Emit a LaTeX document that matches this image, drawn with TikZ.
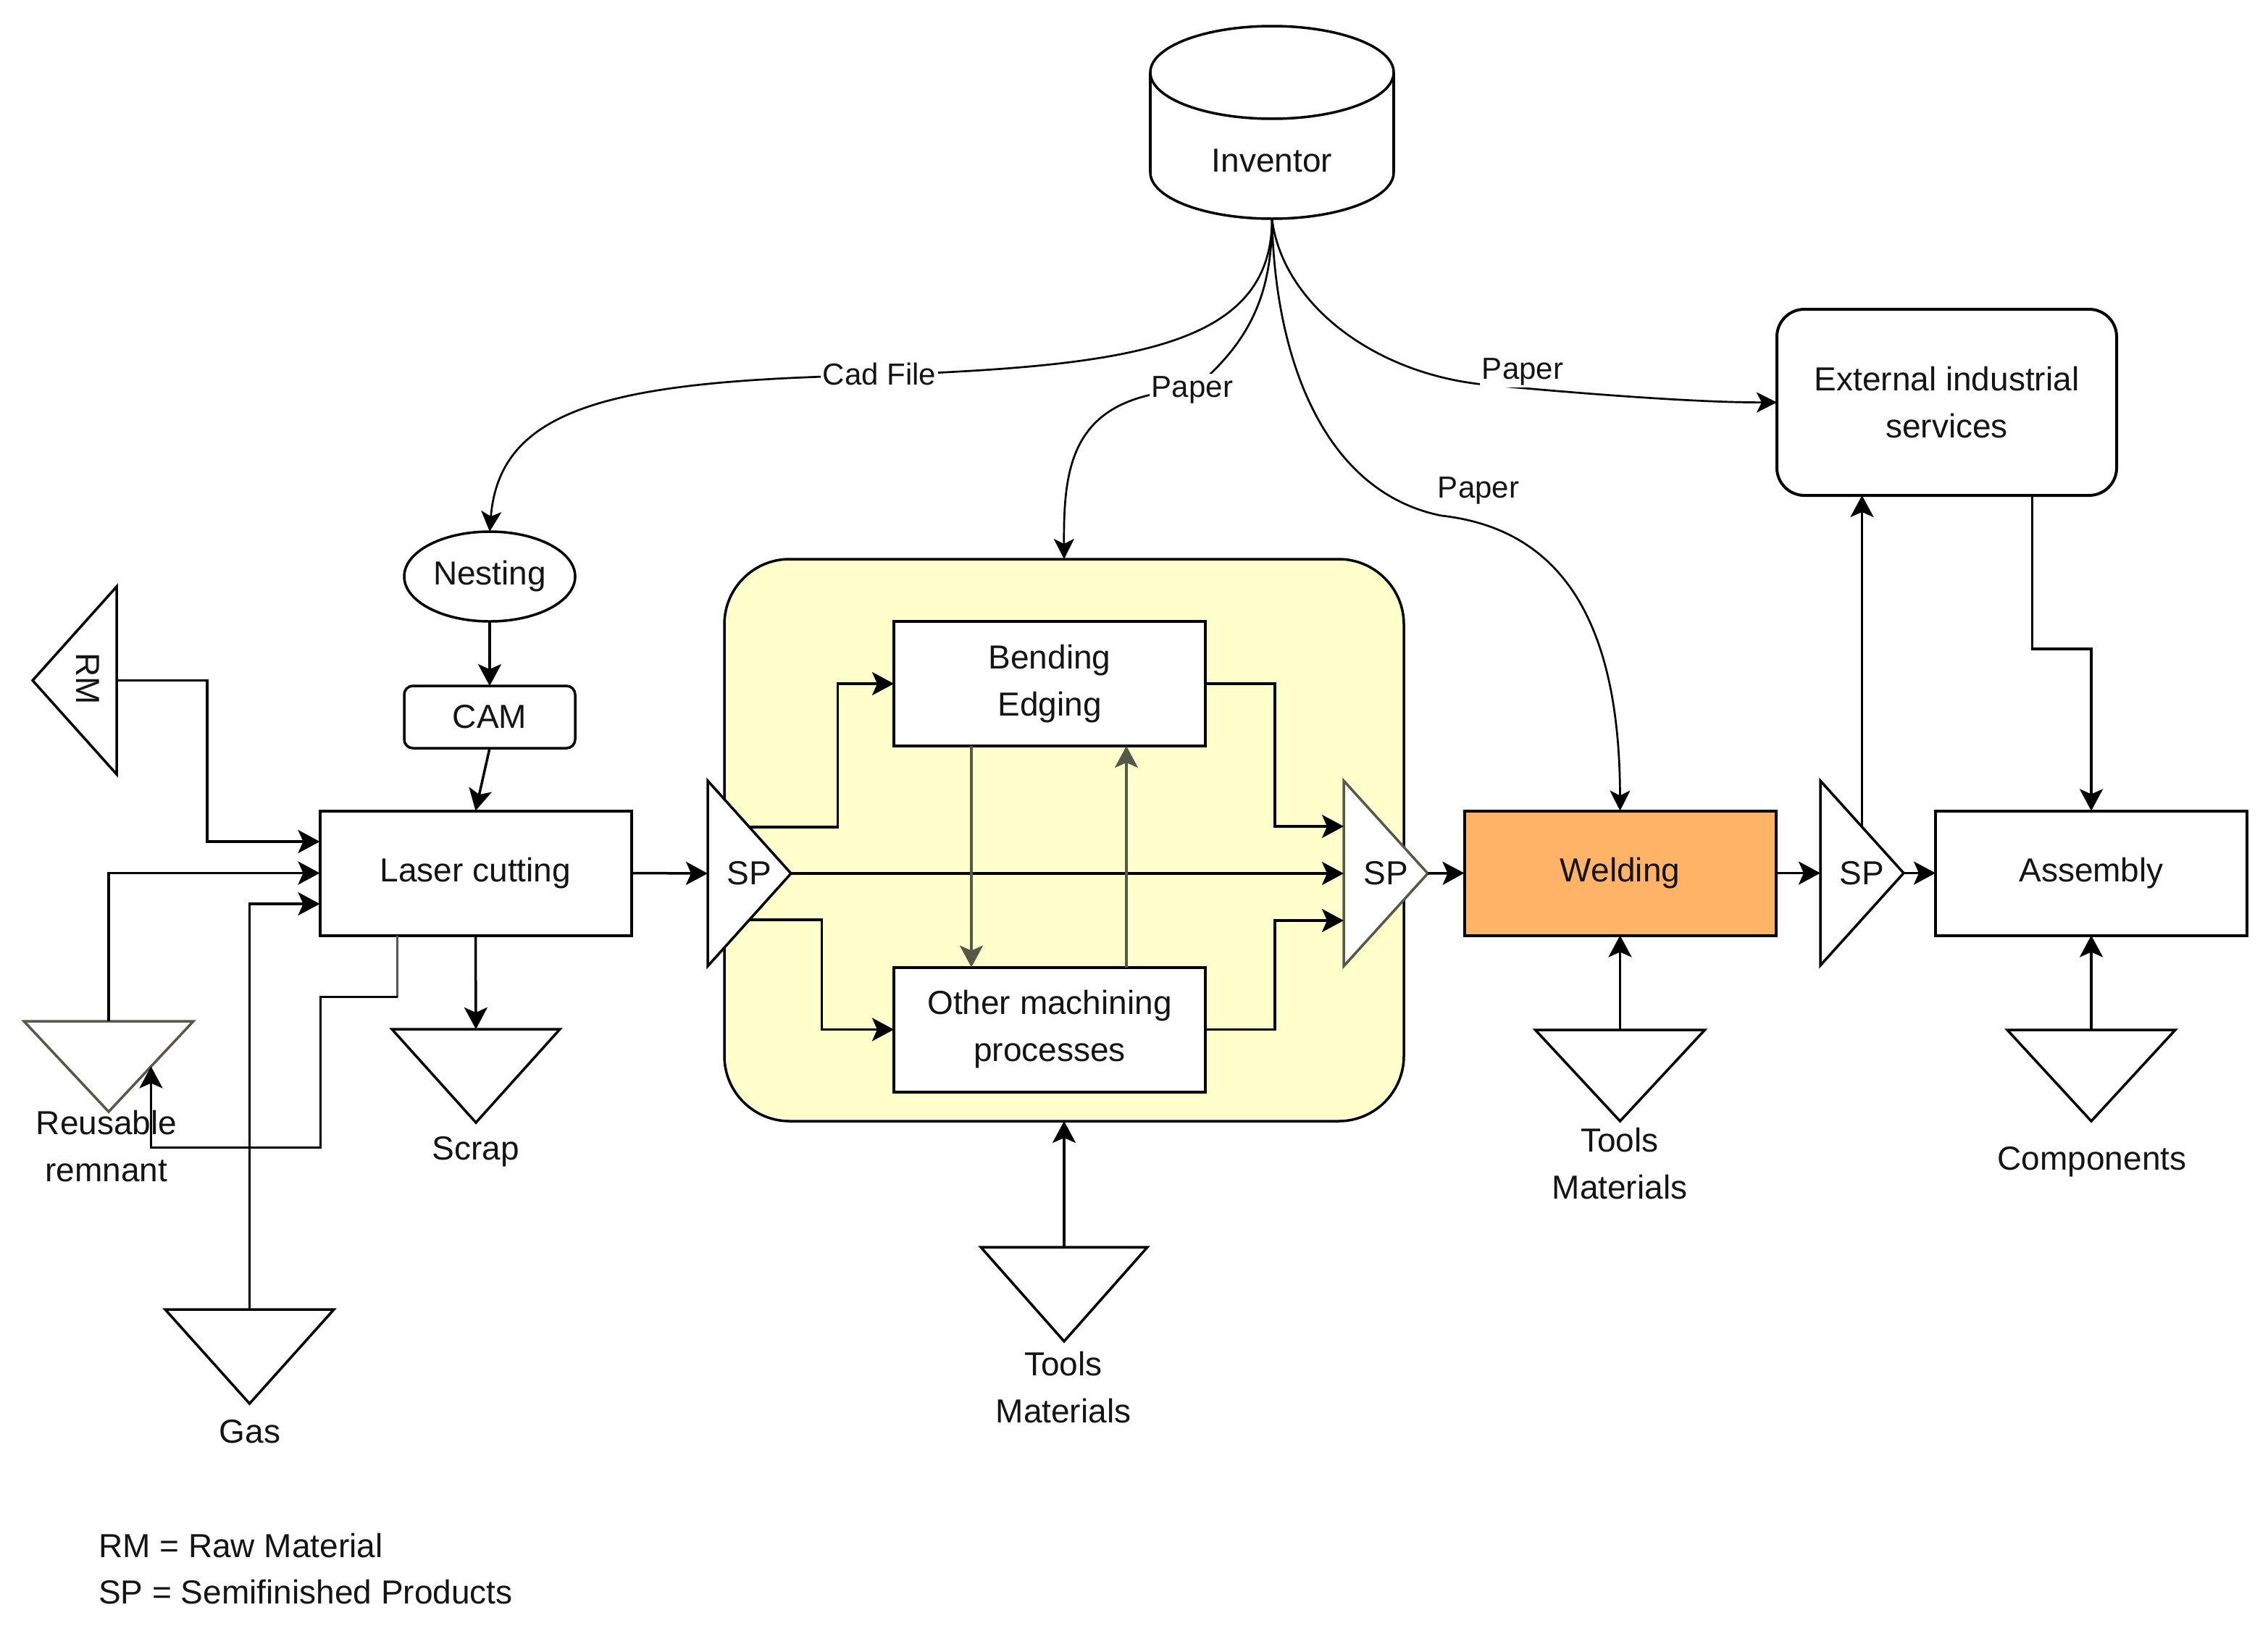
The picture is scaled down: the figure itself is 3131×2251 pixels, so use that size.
\documentclass[tikz,border=0pt]{standalone}
\usepackage{fontspec}
\setmainfont{Liberation Sans}
\usetikzlibrary{arrows.meta,calc,shapes.geometric}
\definecolor{grpfill}{RGB}{255,255,204}
\definecolor{weldfill}{RGB}{255,179,102}
\definecolor{grayln}{RGB}{88,88,72}
\definecolor{txt}{RGB}{20,20,20}
\begin{document}
\begin{tikzpicture}[x=1pt,y=-1pt,
  font=\fontsize{46}{65}\selectfont, text=txt,
  >={Stealth[length=30pt,width=32pt,inset=7pt]},
  box/.style={draw, line width=4pt, minimum width=430pt, minimum height=172pt, inner sep=0pt, outer sep=0pt, align=center, fill=white},
  tribox/.style={inner sep=0pt, outer sep=0pt},
  tri/.style={draw, line width=3.5pt, fill=white, line join=miter},
  conn/.style={line width=3.5pt, ->},
  curve/.style={line width=2.7pt, -{Stealth[length=28pt,width=28pt,inset=7pt]}},
  lbl/.style={fill=white, inner sep=3pt, font=\fontsize{42}{50}\selectfont},
  txtn/.style={align=center, inner sep=0pt}
]
\fill[white] (0,0) rectangle (3131,2251);
\useasboundingbox (0,0) rectangle (3131,2251);

% group container
\node[box, fill=grpfill, minimum width=938pt, minimum height=776pt, rounded corners=90pt, line width=3.5pt] (grp) at (1469,1160) {};

% Inventor cylinder
\node[tribox, minimum width=336pt, minimum height=266pt] (inv) at (1756,169) {};
\fill[white] (1588,100) rectangle (1924,238);
\fill[white] (1756,238) ellipse [x radius=168pt, y radius=64pt];
\draw[line width=3.5pt] (1588,100) -- (1588,238);
\draw[line width=3.5pt] (1924,100) -- (1924,238);
\begin{scope}
  \clip (1575,238) rectangle (1937,312);
  \draw[line width=3.5pt] (1756,238) ellipse [x radius=168pt, y radius=64pt];
\end{scope}
\draw[line width=3.5pt, fill=white] (1756,100) ellipse [x radius=168pt, y radius=64pt];
\node[txtn] (invt) at (1756,222) {Inventor};

% process nodes
\node[ellipse, draw, line width=3.5pt, minimum width=236pt, minimum height=124pt, inner sep=0pt, outer sep=0pt, fill=white] (nest) at (676,796) {Nesting};
\node[box, minimum width=236pt, minimum height=86pt, rounded corners=12pt, line width=3.5pt] (cam) at (676,990) {CAM};
\node[box] (laser) at (656.5,1205.5) {Laser cutting};
\node[box] (bend) at (1449,944) {Bending\\Edging};
\node[box] (oth) at (1449,1421.5) {Other machining\\processes};
\node[box, fill=weldfill] (weld) at (2236.5,1205.5) {Welding};
\node[box] (asm) at (2887,1205.5) {Assembly};
\node[box, minimum width=469pt, minimum height=257pt, rounded corners=38pt] (ext) at (2687.5,555.5) {External industrial\\services};

% RM triangle
\node[tribox, minimum width=116pt, minimum height=259pt] (rm) at (103,939.5) {};
\draw[tri] (rm.north east) -- (rm.west) -- (rm.south east) -- cycle;
\node[rotate=-90, inner sep=0pt] (rmt) at (121,937) {RM};

% SP triangles
\node[tribox, minimum width=115pt, minimum height=256pt] (sp1) at (1034.5,1206) {};
\draw[tri] (sp1.north west) -- (sp1.east) -- (sp1.south west) -- cycle;
\node[txtn] (sp1t) at (sp1.center) {SP};
\node[tribox, minimum width=116pt, minimum height=256pt] (sp2) at (1913,1206) {};
\draw[tri, draw=grayln] (sp2.north west) -- (sp2.east) -- (sp2.south west) -- cycle;
\node[txtn] (sp2t) at (sp2.center) {SP};
\node[tribox, minimum width=115pt, minimum height=255pt] (sp3) at (2570.5,1205.5) {};
\draw[tri] (sp3.north west) -- (sp3.east) -- (sp3.south west) -- cycle;
\node[txtn] (sp3t) at (sp3.center) {SP};

% down triangles
\node[tribox, minimum width=232pt, minimum height=129pt] (scrap) at (657,1485.5) {};
\draw[tri] (scrap.north west) -- (scrap.north east) -- (scrap.south) -- cycle;
\node[txtn] (scrapt) at (657,1590) {Scrap};

\node[tribox, minimum width=234pt, minimum height=125pt] (rem) at (150,1472.5) {};
\draw[tri, draw=grayln] (rem.north west) -- (rem.north east) -- (rem.south) -- cycle;
\node[txtn] (remt) at (147,1583) {Reusable\\remnant};

\node[tribox, minimum width=233pt, minimum height=130pt] (gas) at (344.5,1873) {};
\draw[tri] (gas.north west) -- (gas.north east) -- (gas.south) -- cycle;
\node[txtn] (gast) at (345,1977) {Gas};

\node[tribox, minimum width=230pt, minimum height=130pt] (tool1) at (1469,1787) {};
\draw[tri] (tool1.north west) -- (tool1.north east) -- (tool1.south) -- cycle;
\node[txtn] (tool1t) at (1468,1916) {Tools\\Materials};

\node[tribox, minimum width=234pt, minimum height=126pt] (tool2) at (2236.5,1485) {};
\draw[tri] (tool2.north west) -- (tool2.north east) -- (tool2.south) -- cycle;
\node[txtn] (tool2t) at (2236,1607) {Tools\\Materials};

\node[tribox, minimum width=232pt, minimum height=126pt] (comp) at (2887,1485) {};
\draw[tri] (comp.north west) -- (comp.north east) -- (comp.south) -- cycle;
\node[txtn] (compt) at (2888,1604) {Components};

% legend
\node[anchor=west, inner sep=0pt] (leg1) at (136,2134) {RM = Raw Material};
\node[anchor=west, inner sep=0pt] (leg2) at (136,2198) {SP = Semifinished Products};

% connectors, left part
\draw[conn] (nest.south) -- (cam.north);
\draw[conn] (cam.south) -- (laser.north);
\draw[conn] (rm.east) -- ++(125,0) |- ($(laser.west)+(0,-43.5)$);
\draw[conn] (rem.north) |- (laser.west);
\draw[conn] (gas.north) |- ($(laser.west)+(0,42.5)$);
\draw[conn] (laser.south) -- (scrap.north);
\coordinate (lz) at ($(laser.south west)+(107,0)$);
\draw[line width=3.5pt, grayln] (lz) -- ++(0,85) coordinate (lz2);
\draw[conn] (lz2) -- ++(-106,0) -- ++(0,208) -| ($(rem.north east)!0.5!(rem.south)$);
\draw[conn] (laser.east) -- (sp1.west);

% inside group
\coordinate (sp1a) at ($(sp1.north west)!0.5!(sp1.east)$);
\coordinate (sp1b) at ($(sp1.south west)!0.5!(sp1.east)$);
\draw[conn] (sp1a) -- ++(122,0) |- (bend.west);
\draw[conn] (sp1b) -- ++(100,0) |- (oth.west);
\draw[conn] (sp1.east) -- (sp2.west);
\draw[conn] (bend.east) -- ++(96,0) |- ($(sp2.west)+(0,-65)$);
\draw[conn] (oth.east) -- ++(96,0) |- ($(sp2.west)+(0,65)$);
\draw[conn, grayln] ($(bend.south west)+(107,0)$) -- ($(oth.north west)+(107,0)$);
\draw[conn, grayln] ($(oth.north west)+(321,0)$) -- ($(bend.south west)+(321,0)$);
\draw[conn] (tool1.north) -- (grp.south);

% right part
\draw[conn] (sp2.east) -- (weld.west);
\draw[conn] (tool2.north) -- (weld.south);
\draw[conn] (weld.east) -- (sp3.west);
\draw[conn] (sp3.east) -- (asm.west);
\draw[conn] (comp.north) -- (asm.south);
\coordinate (sp3a) at ($(sp3.north west)!0.5!(sp3.east)$);
\draw[conn] (sp3a) -- (sp3a |- ext.south);
\draw[conn] ($(ext.south)+(118,0)$) -- ++(0,212) -| (asm.north);

% curves from Inventor
\draw[curve] (inv.south) .. controls (1756,480) and (1560,505) .. (1214,518)
  .. controls (850,525) and (690,560) .. (nest.north);
\draw[curve] (inv.south) .. controls (1756,400) and (1730,470) .. (1646,538)
  .. controls (1480,545) and (1468,640) .. (grp.north);
\draw[curve] (inv.south) .. controls (1760,500) and (1830,680) .. (1990,712)
  .. controls (2150,730) and (2236,850) .. (weld.north);
\draw[curve] (inv.south) .. controls (1770,420) and (1900,520) .. (2060,532)
  .. controls (2200,545) and (2350,556) .. (ext.west);
\node[lbl] (l1) at (1214,516) {Cad File};
\node[lbl] (l2) at (1646,538) {Paper};
\node[lbl, fill=none] (l3) at (2041,677) {Paper};
\node[lbl] (l4) at (2102,513) {Paper};
\end{tikzpicture}
\end{document}
